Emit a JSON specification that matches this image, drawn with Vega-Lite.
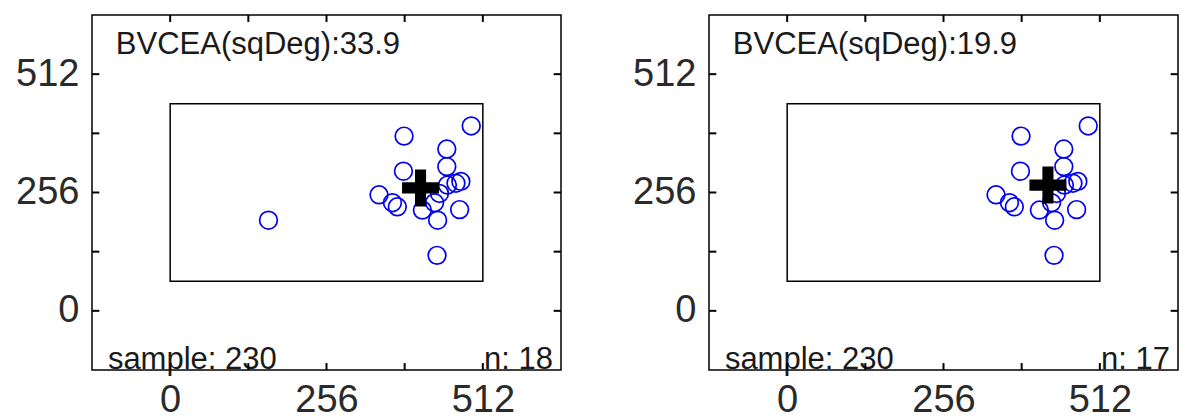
{
  "$schema": "https://vega.github.io/schema/vega-lite/v6.json",
  "background": "white",
  "padding": {"left": 14, "top": 13, "right": 0, "bottom": 0},
  "autosize": {"type": "pad"},
  "datasets": {
    "points": [
      {"panel": "A", "x": 383, "y": 378},
      {"panel": "A", "x": 493, "y": 400},
      {"panel": "A", "x": 453, "y": 350},
      {"panel": "A", "x": 453, "y": 312},
      {"panel": "A", "x": 382, "y": 302},
      {"panel": "A", "x": 342, "y": 251},
      {"panel": "A", "x": 364, "y": 234},
      {"panel": "A", "x": 372, "y": 225},
      {"panel": "A", "x": 413, "y": 218},
      {"panel": "A", "x": 438, "y": 196},
      {"panel": "A", "x": 474, "y": 219},
      {"panel": "A", "x": 468, "y": 276},
      {"panel": "A", "x": 454, "y": 272},
      {"panel": "A", "x": 433, "y": 234},
      {"panel": "A", "x": 437, "y": 120},
      {"panel": "A", "x": 161, "y": 196},
      {"panel": "A", "x": 476, "y": 280},
      {"panel": "A", "x": 441, "y": 254},
      {"panel": "B", "x": 383, "y": 378},
      {"panel": "B", "x": 493, "y": 400},
      {"panel": "B", "x": 453, "y": 350},
      {"panel": "B", "x": 453, "y": 312},
      {"panel": "B", "x": 382, "y": 302},
      {"panel": "B", "x": 342, "y": 251},
      {"panel": "B", "x": 364, "y": 234},
      {"panel": "B", "x": 372, "y": 225},
      {"panel": "B", "x": 413, "y": 218},
      {"panel": "B", "x": 438, "y": 196},
      {"panel": "B", "x": 474, "y": 219},
      {"panel": "B", "x": 468, "y": 276},
      {"panel": "B", "x": 454, "y": 272},
      {"panel": "B", "x": 433, "y": 234},
      {"panel": "B", "x": 437, "y": 120},
      {"panel": "B", "x": 476, "y": 280},
      {"panel": "B", "x": 441, "y": 254}
    ],
    "centroids": [
      {"panel": "A", "x": 410, "y": 266},
      {"panel": "B", "x": 427, "y": 272}
    ],
    "screen": [{"x0": 0, "x1": 512, "y0": 64, "y1": 448}],
    "ticks": [{"v": 0}, {"v": 128}, {"v": 256}, {"v": 384}, {"v": 512}],
    "labels": [
      {"panel": "A", "area": "BVCEA(sqDeg):33.9", "sample": "sample: 230", "n": "n: 18"},
      {"panel": "B", "area": "BVCEA(sqDeg):19.9", "sample": "sample: 230", "n": "n: 17"}
    ]
  },
  "config": {
    "view": {"stroke": "black", "strokeWidth": 1.5},
    "axis": {
      "grid": false,
      "domain": false,
      "ticks": false,
      "title": null,
      "labelFont": "Liberation Sans",
      "labelFontSize": 38,
      "labelColor": "#2a2a2a"
    },
    "rule": {"color": "black", "strokeWidth": 2},
    "text": {"font": "Liberation Sans", "fontSize": 31, "color": "#1a1a1a"}
  },
  "bounds": "flush",
  "spacing": 148,
  "hconcat": [
    {
      "width": 469,
      "height": 355,
      "resolve": {"axis": {"x": "independent", "y": "independent"}},
      "layer": [
        {
          "data": {"name": "screen"},
          "mark": {"type": "rect", "filled": false, "stroke": "black", "strokeWidth": 1.5},
          "encoding": {
            "x": {"field": "x0", "type": "quantitative", "scale": {"domain": [-128, 640], "nice": false, "zero": false}, "axis": null},
            "x2": {"field": "x1"},
            "y": {"field": "y0", "type": "quantitative", "scale": {"domain": [-128, 640], "nice": false, "zero": false}, "axis": null},
            "y2": {"field": "y1"}
          }
        },
        {
          "data": {"name": "points"},
          "transform": [{"filter": "datum.panel === 'A'"}],
          "mark": {"type": "point", "shape": "circle", "filled": false, "color": "#0000f0", "strokeWidth": 1.7, "size": 314, "opacity": 1},
          "encoding": {
            "x": {"field": "x", "type": "quantitative", "scale": {"domain": [-128, 640], "nice": false, "zero": false},
                  "axis": {"orient": "bottom", "values": [0, 256, 512], "labelPadding": 11, "title": null}},
            "y": {"field": "y", "type": "quantitative", "scale": {"domain": [-128, 640], "nice": false, "zero": false},
                  "axis": {"orient": "left", "values": [0, 256, 512], "labelPadding": 13, "title": null}}
          }
        },
        {
          "data": {"name": "centroids"},
          "transform": [{"filter": "datum.panel === 'A'"}],
          "mark": {"type": "point", "shape": "M-1,-0.3L1,-0.3L1,0.3L-1,0.3Z M-0.3,-1L0.3,-1L0.3,1L-0.3,1Z", "filled": true, "color": "black", "size": 1369, "opacity": 1},
          "encoding": {
            "x": {"field": "x", "type": "quantitative", "scale": {"domain": [-128, 640], "nice": false, "zero": false}, "axis": null},
            "y": {"field": "y", "type": "quantitative", "scale": {"domain": [-128, 640], "nice": false, "zero": false}, "axis": null}
          }
        },
        {
          "data": {"name": "labels"},
          "transform": [{"filter": "datum.panel === 'A'"}],
          "mark": {"type": "text", "align": "left", "baseline": "alphabetic"},
          "encoding": {
            "text": {"field": "area"},
            "x": {"datum": -89, "type": "quantitative", "axis": null},
            "y": {"datum": 556, "type": "quantitative", "axis": null}
          }
        },
        {
          "data": {"name": "labels"},
          "transform": [{"filter": "datum.panel === 'A'"}],
          "mark": {"type": "text", "align": "left", "baseline": "alphabetic"},
          "encoding": {
            "text": {"field": "sample"},
            "x": {"datum": -102, "type": "quantitative", "axis": null},
            "y": {"datum": -126, "type": "quantitative", "axis": null}
          }
        },
        {
          "data": {"name": "labels"},
          "transform": [{"filter": "datum.panel === 'A'"}],
          "mark": {"type": "text", "align": "right", "baseline": "alphabetic"},
          "encoding": {
            "text": {"field": "n"},
            "x": {"datum": 627, "type": "quantitative", "axis": null},
            "y": {"datum": -126, "type": "quantitative", "axis": null}
          }
        },
        {
          "data": {"name": "ticks"},
          "mark": {"type": "rule", "color": "black", "strokeWidth": 2},
          "encoding": {"x": {"field": "v", "type": "quantitative", "axis": null}, "y": {"datum": -128, "type": "quantitative", "axis": null}, "y2": {"datum": -113}}
        },
        {
          "data": {"name": "ticks"},
          "mark": {"type": "rule", "color": "black", "strokeWidth": 2},
          "encoding": {"x": {"field": "v", "type": "quantitative", "axis": null}, "y": {"datum": 640, "type": "quantitative", "axis": null}, "y2": {"datum": 625}}
        },
        {
          "data": {"name": "ticks"},
          "mark": {"type": "rule", "color": "black", "strokeWidth": 2},
          "encoding": {"y": {"field": "v", "type": "quantitative", "axis": null}, "x": {"datum": -128, "type": "quantitative", "axis": null}, "x2": {"datum": -116}}
        },
        {
          "data": {"name": "ticks"},
          "mark": {"type": "rule", "color": "black", "strokeWidth": 2},
          "encoding": {"y": {"field": "v", "type": "quantitative", "axis": null}, "x": {"datum": 640, "type": "quantitative", "axis": null}, "x2": {"datum": 628}}
        }
      ]
    },
    {
      "width": 469,
      "height": 355,
      "resolve": {"axis": {"x": "independent", "y": "independent"}},
      "layer": [
        {
          "data": {"name": "screen"},
          "mark": {"type": "rect", "filled": false, "stroke": "black", "strokeWidth": 1.5},
          "encoding": {
            "x": {"field": "x0", "type": "quantitative", "scale": {"domain": [-128, 640], "nice": false, "zero": false}, "axis": null},
            "x2": {"field": "x1"},
            "y": {"field": "y0", "type": "quantitative", "scale": {"domain": [-128, 640], "nice": false, "zero": false}, "axis": null},
            "y2": {"field": "y1"}
          }
        },
        {
          "data": {"name": "points"},
          "transform": [{"filter": "datum.panel === 'B'"}],
          "mark": {"type": "point", "shape": "circle", "filled": false, "color": "#0000f0", "strokeWidth": 1.7, "size": 314, "opacity": 1},
          "encoding": {
            "x": {"field": "x", "type": "quantitative", "scale": {"domain": [-128, 640], "nice": false, "zero": false},
                  "axis": {"orient": "bottom", "values": [0, 256, 512], "labelPadding": 11, "title": null}},
            "y": {"field": "y", "type": "quantitative", "scale": {"domain": [-128, 640], "nice": false, "zero": false},
                  "axis": {"orient": "left", "values": [0, 256, 512], "labelPadding": 13, "title": null}}
          }
        },
        {
          "data": {"name": "centroids"},
          "transform": [{"filter": "datum.panel === 'B'"}],
          "mark": {"type": "point", "shape": "M-1,-0.3L1,-0.3L1,0.3L-1,0.3Z M-0.3,-1L0.3,-1L0.3,1L-0.3,1Z", "filled": true, "color": "black", "size": 1369, "opacity": 1},
          "encoding": {
            "x": {"field": "x", "type": "quantitative", "scale": {"domain": [-128, 640], "nice": false, "zero": false}, "axis": null},
            "y": {"field": "y", "type": "quantitative", "scale": {"domain": [-128, 640], "nice": false, "zero": false}, "axis": null}
          }
        },
        {
          "data": {"name": "labels"},
          "transform": [{"filter": "datum.panel === 'B'"}],
          "mark": {"type": "text", "align": "left", "baseline": "alphabetic"},
          "encoding": {
            "text": {"field": "area"},
            "x": {"datum": -89, "type": "quantitative", "axis": null},
            "y": {"datum": 556, "type": "quantitative", "axis": null}
          }
        },
        {
          "data": {"name": "labels"},
          "transform": [{"filter": "datum.panel === 'B'"}],
          "mark": {"type": "text", "align": "left", "baseline": "alphabetic"},
          "encoding": {
            "text": {"field": "sample"},
            "x": {"datum": -102, "type": "quantitative", "axis": null},
            "y": {"datum": -126, "type": "quantitative", "axis": null}
          }
        },
        {
          "data": {"name": "labels"},
          "transform": [{"filter": "datum.panel === 'B'"}],
          "mark": {"type": "text", "align": "right", "baseline": "alphabetic"},
          "encoding": {
            "text": {"field": "n"},
            "x": {"datum": 627, "type": "quantitative", "axis": null},
            "y": {"datum": -126, "type": "quantitative", "axis": null}
          }
        },
        {
          "data": {"name": "ticks"},
          "mark": {"type": "rule", "color": "black", "strokeWidth": 2},
          "encoding": {"x": {"field": "v", "type": "quantitative", "axis": null}, "y": {"datum": -128, "type": "quantitative", "axis": null}, "y2": {"datum": -113}}
        },
        {
          "data": {"name": "ticks"},
          "mark": {"type": "rule", "color": "black", "strokeWidth": 2},
          "encoding": {"x": {"field": "v", "type": "quantitative", "axis": null}, "y": {"datum": 640, "type": "quantitative", "axis": null}, "y2": {"datum": 625}}
        },
        {
          "data": {"name": "ticks"},
          "mark": {"type": "rule", "color": "black", "strokeWidth": 2},
          "encoding": {"y": {"field": "v", "type": "quantitative", "axis": null}, "x": {"datum": -128, "type": "quantitative", "axis": null}, "x2": {"datum": -116}}
        },
        {
          "data": {"name": "ticks"},
          "mark": {"type": "rule", "color": "black", "strokeWidth": 2},
          "encoding": {"y": {"field": "v", "type": "quantitative", "axis": null}, "x": {"datum": 640, "type": "quantitative", "axis": null}, "x2": {"datum": 628}}
        }
      ]
    }
  ]
}
